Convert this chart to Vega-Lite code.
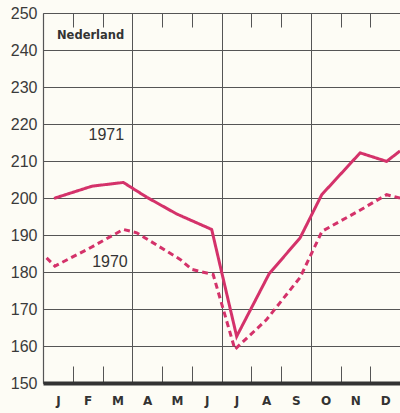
{
  "$schema": "https://vega.github.io/schema/vega-lite/v6.json",
  "width": 357,
  "height": 370,
  "autosize": {"type": "none"},
  "padding": {"left": 43, "top": 13, "right": 0, "bottom": 30},
  "background": "#fdfcf5",
  "config": {"view": {"stroke": null}, "font": "Liberation Sans"},
  "datasets": {
    "series": [
      {"m": 0.37, "v": 199.9, "year": "1971"},
      {"m": 1.65, "v": 203.2, "year": "1971"},
      {"m": 2.70, "v": 204.2, "year": "1971"},
      {"m": 3.49, "v": 200.2, "year": "1971"},
      {"m": 4.49, "v": 195.7, "year": "1971"},
      {"m": 5.67, "v": 191.5, "year": "1971"},
      {"m": 6.51, "v": 162.6, "year": "1971"},
      {"m": 7.60, "v": 179.5, "year": "1971"},
      {"m": 8.64, "v": 189.2, "year": "1971"},
      {"m": 9.37, "v": 200.9, "year": "1971"},
      {"m": 10.66, "v": 212.2, "year": "1971"},
      {"m": 11.55, "v": 209.9, "year": "1971"},
      {"m": 12.0, "v": 212.7, "year": "1971"},
      {"m": 0.12, "v": 183.8, "year": "1970"},
      {"m": 0.40, "v": 181.6, "year": "1970"},
      {"m": 1.58, "v": 186.5, "year": "1970"},
      {"m": 2.70, "v": 191.5, "year": "1970"},
      {"m": 3.15, "v": 190.6, "year": "1970"},
      {"m": 4.61, "v": 183.4, "year": "1970"},
      {"m": 5.00, "v": 180.7, "year": "1970"},
      {"m": 5.72, "v": 179.3, "year": "1970"},
      {"m": 6.45, "v": 159.1, "year": "1970"},
      {"m": 7.50, "v": 167.0, "year": "1970"},
      {"m": 8.64, "v": 178.5, "year": "1970"},
      {"m": 9.38, "v": 191.0, "year": "1970"},
      {"m": 10.59, "v": 196.4, "year": "1970"},
      {"m": 11.55, "v": 200.9, "year": "1970"},
      {"m": 12.0, "v": 200.0, "year": "1970"}
    ],
    "labels": [
      {"label": "Nederland", "m": 1.6, "v": 243.9},
      {"label": "1971", "m": 2.13, "v": 216.9},
      {"label": "1970", "m": 2.25, "v": 182.8}
    ]
  },
  "resolve": {"axis": {"x": "independent", "y": "independent"}},
  "layer": [
    {
      "data": {"name": "series"},
      "mark": {"type": "line", "strokeWidth": 3, "strokeCap": "butt", "strokeJoin": "miter", "clip": true},
      "encoding": {
        "x": {
          "field": "m", "type": "quantitative",
          "scale": {"domain": [0, 12], "nice": false, "zero": false},
          "axis": {
            "orient": "bottom", "title": null,
            "values": [0.5, 1.5, 2.5, 3.5, 4.5, 5.5, 6.5, 7.5, 8.5, 9.5, 10.5, 11.5],
            "labelExpr": "['J','F','M','A','M','J','J','A','S','O','N','D'][floor(datum.value)]",
            "labelFont": "DejaVu Sans", "labelFontWeight": "bold", "labelFontSize": 12,
            "labelColor": "#333333", "labelPadding": 12, "labelFlush": false,
            "ticks": false, "grid": false,
            "domain": true, "domainColor": "#333333", "domainWidth": 4, "zindex": 1
          }
        },
        "y": {
          "field": "v", "type": "quantitative",
          "scale": {"domain": [150, 250], "nice": false, "zero": false},
          "axis": {
            "title": null,
            "values": [150, 160, 170, 180, 190, 200, 210, 220, 230, 240, 250],
            "labelFontSize": 16, "labelColor": "#3a3a3a", "labelPadding": 6,
            "labelFlush": false,
            "ticks": false, "grid": true, "gridColor": "#555555", "gridWidth": 1, "gridOpacity": 1,
            "domain": true, "domainColor": "#555555", "domainWidth": 1.2
          }
        },
        "color": {"field": "year", "type": "nominal", "scale": {"domain": ["1971", "1970"], "range": ["#d4326a", "#d4326a"]}, "legend": null},
        "strokeDash": {"field": "year", "type": "nominal", "scale": {"domain": ["1971", "1970"], "range": [[1, 0], [6, 4]]}, "legend": null}
      }
    },
    {
      "data": {"name": "labels"},
      "transform": [{"filter": "datum.label == 'Nederland'"}],
      "mark": {"type": "text", "font": "DejaVu Sans", "fontWeight": "bold", "fontSize": 11.5, "color": "#333333", "align": "center", "baseline": "middle"},
      "encoding": {
        "text": {"field": "label"},
        "x": {"field": "m", "type": "quantitative",
          "axis": {"orient": "top", "title": null, "values": [0, 3, 6, 9, 12], "labels": false, "ticks": false, "domain": false,
            "grid": true, "gridColor": "#555555", "gridWidth": 1, "gridOpacity": 1}},
        "y": {"field": "v", "type": "quantitative", "axis": null}
      }
    },
    {
      "data": {"name": "labels"},
      "transform": [{"filter": "datum.label == '1971'"}],
      "mark": {"type": "text", "fontSize": 16, "color": "#333333", "align": "center", "baseline": "middle"},
      "encoding": {
        "text": {"field": "label"},
        "x": {"field": "m", "type": "quantitative",
          "axis": {"orient": "top", "title": null, "values": [1, 2, 4, 5, 7, 8, 10, 11], "labels": false, "domain": false, "grid": false,
            "ticks": true, "tickSize": -14, "tickColor": "#555555", "tickWidth": 1}},
        "y": {"field": "v", "type": "quantitative", "axis": null}
      }
    },
    {
      "data": {"name": "labels"},
      "transform": [{"filter": "datum.label == '1970'"}],
      "mark": {"type": "text", "fontSize": 16, "color": "#333333", "align": "center", "baseline": "middle"},
      "encoding": {
        "text": {"field": "label"},
        "x": {"field": "m", "type": "quantitative",
          "axis": {"orient": "bottom", "title": null, "values": [1, 2, 4, 5, 7, 8, 10, 11], "labels": false, "domain": false, "grid": false,
            "ticks": true, "tickSize": -17, "tickColor": "#555555", "tickWidth": 1}},
        "y": {"field": "v", "type": "quantitative", "axis": null}
      }
    }
  ]
}
